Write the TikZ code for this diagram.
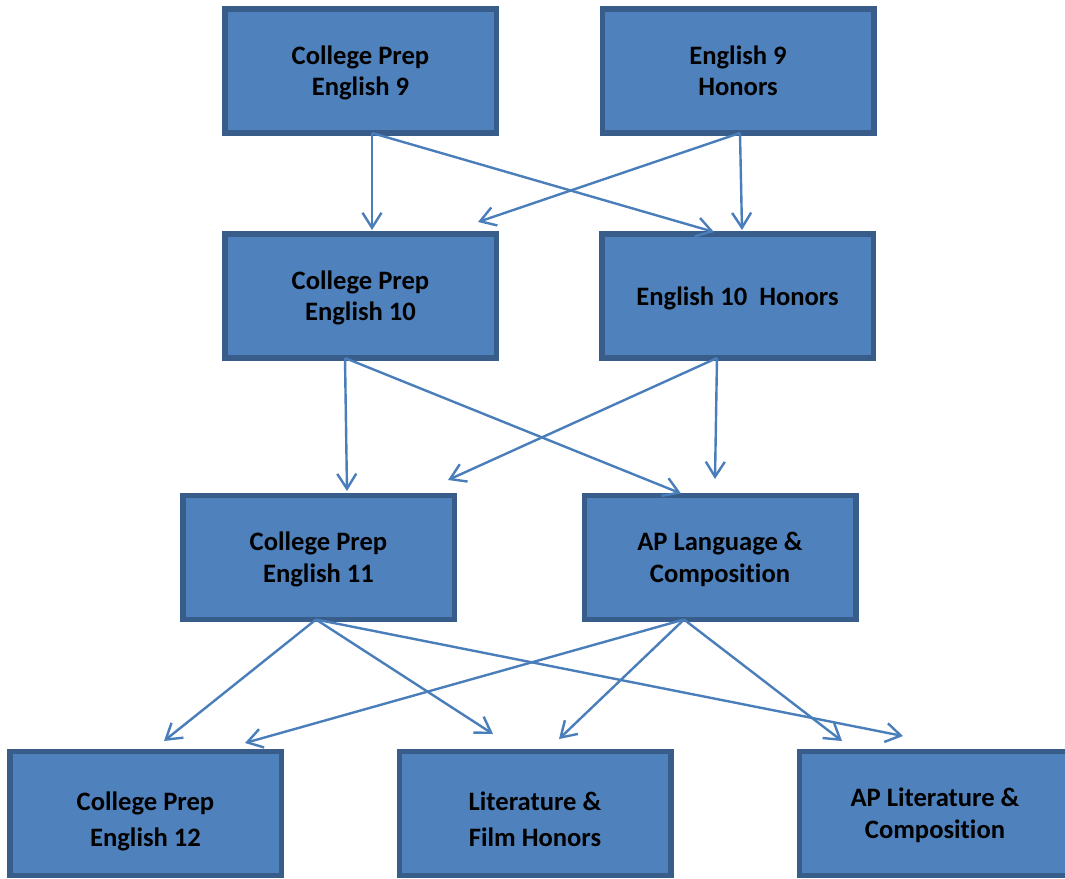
\documentclass[tikz,border=0pt]{standalone}
\usepackage{fontspec}
\setmainfont{Carlito}[Ligatures=NoCommon]
\usetikzlibrary{arrows.meta}
\definecolor{boxfill}{HTML}{4F81BD}
\definecolor{boxline}{HTML}{385D8A}
\definecolor{arrowcol}{HTML}{4A7EBB}
\newcommand\myTop{\rule{0pt}{24pt}}
\newcommand\myBot{\rule[-6pt]{0pt}{6pt}}
\newcommand\myTopLow{\rule{0pt}{35pt}}
\begin{document}
\begin{tikzpicture}[x=1pt,y=-1pt,
  coursebox/.style={draw=boxline, fill=boxfill, line width=5.5pt,
    minimum width=271.5pt, minimum height=124pt, inner sep=0pt, outer sep=0pt,
    align=center, font=\fontsize{26.6}{31.5}\selectfont\bfseries},
  flow/.style={draw=arrowcol, line width=2.4pt,
    -{Straight Barb[length=15pt,width=19pt,line width=2.4pt]}}]
\useasboundingbox (0,0) rectangle (1065,878);
\fill[white] (0,0) rectangle (1065,878);
\clip (0,0) rectangle (1065,878);

\node[coursebox] (n1) at (360.5,71) {\myTop College Prep\\English 9\myBot};
\node[coursebox] (n2) at (738,71) {\myTop English 9\\Honors\myBot};
\node[coursebox] (n3) at (360.5,296) {\myTop College Prep\\English 10\myBot};
\node[coursebox] (n4) at (737.5,296) {\myTop English 10~~Honors\myBot};
\node[coursebox] (n5) at (318.5,557.5) {\myTop College Prep\\English 11\myBot};
\node[coursebox] (n6) at (720,557.5) {\myTop AP Language \&\\Composition\myBot};
\node[coursebox] (n7) at (145.5,813.5) {\myTopLow College Prep\\[4.5pt]English 12\myBot};
\node[coursebox] (n8) at (535,813.5) {\myTopLow Literature \&\\[4.5pt]Film Honors\myBot};
\node[coursebox] (n9) at (935,813.5) {\myTop AP Literature \&\\Composition\myBot};

\draw[flow] ([xshift=11.5pt]n1.south) -- ([xshift=11.5pt,yshift=4pt]n3.north);
\draw[flow] ([xshift=11.5pt]n1.south) -- ([xshift=-23.5pt,yshift=2pt]n4.north);
\draw[flow] ([xshift=2pt]n2.south) -- ([xshift=117.5pt,yshift=12pt]n3.north);
\draw[flow] ([xshift=2pt]n2.south) -- ([xshift=4.5pt,yshift=4pt]n4.north);

\draw[flow] ([xshift=-15.5pt]n3.south) -- ([xshift=28.5pt,yshift=4.5pt]n5.north);
\draw[flow] ([xshift=-15.5pt]n3.south) -- ([xshift=-39pt,yshift=2pt]n6.north);
\draw[flow] ([xshift=-20.5pt]n4.south) -- ([xshift=129.5pt,yshift=15.5pt]n5.north);
\draw[flow] ([xshift=-20.5pt]n4.south) -- ([xshift=-5pt,yshift=16.5pt]n6.north);

\draw[flow] ([xshift=-2.5pt]n5.south) -- ([xshift=18.5pt,yshift=10.5pt]n7.north);
\draw[flow] ([xshift=-2.5pt]n5.south) -- ([xshift=-42pt,yshift=17.5pt]n8.north);
\draw[flow] ([xshift=-2.5pt]n5.south) -- ([xshift=-32pt,yshift=15.5pt]n9.north);
\draw[flow] ([xshift=-36pt]n6.south) -- ([xshift=99.5pt,yshift=8.5pt]n7.north);
\draw[flow] ([xshift=-36pt]n6.south) -- ([xshift=24pt,yshift=12.5pt]n8.north);
\draw[flow] ([xshift=-36pt]n6.south) -- ([xshift=-93pt,yshift=10.5pt]n9.north);
\end{tikzpicture}
\end{document}
